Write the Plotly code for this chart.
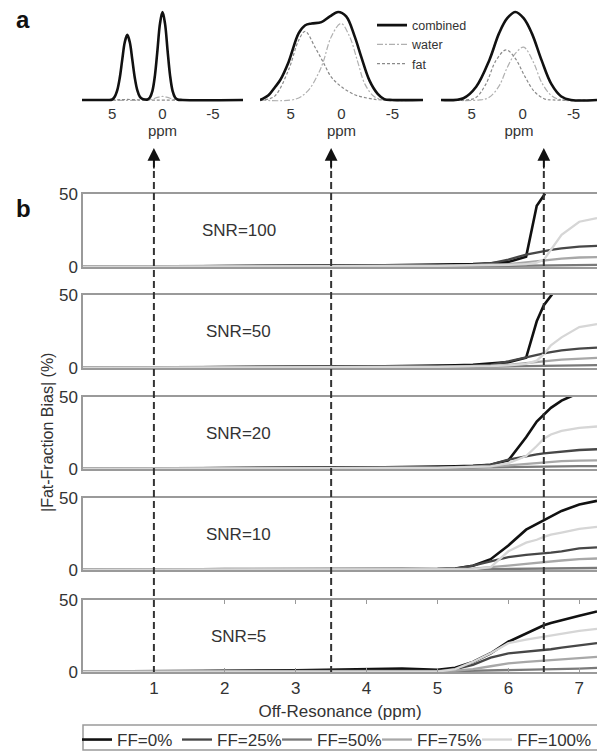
import plotly.graph_objects as go

W, H = 597, 751
FONT = "Liberation Sans, Arial, sans-serif"
TXT = "#333333"


def py(pix):
    """Pixel row (from top) -> paper y."""
    return 1 - pix / H


def px(pix):
    """Pixel column -> paper x."""
    return pix / W


# ---------------- panel a: spectra (ppm, normalised signal) ----------------
A1_COMB_PPM = [8, 5.5, 5, 4.75, 4.5, 4.25, 4, 3.75, 3.5, 3.25, 3, 2.75, 2.5, 2.25, 2, 1.75,
               1.5, 1.25, 1, 0.75, 0.5, 0.25, 0, -0.25, -0.5, -0.75, -1, -1.25, -1.5, -2, -8]
A1_COMB = [0, 0, 0.005, 0.037, 0.109, 0.25, 0.458, 0.656, 0.74, 0.656, 0.458, 0.25, 0.109, 0.037,
           0.012, 0.005, 0.006, 0.029, 0.104, 0.28, 0.568, 0.868, 1.0, 0.868, 0.568, 0.28, 0.104,
           0.029, 0.006, 0, 0]
A1_WATER_PPM = [8, 1.5, 1.0, 0.5, 0, -0.5, -1.0, -1.5, -8]
A1_WATER = [0, 0, 0.01, 0.03, 0.04, 0.03, 0.01, 0, 0]
A1_FAT_PPM = [8, 5, 4, 3.5, 3, 2, -8]
A1_FAT = [0, 0, 0.004, 0.006, 0.004, 0, 0]

A2_COMB_PPM = [8, 7.8, 7.2, 6.5, 6.0, 5.2, 4.2, 3.56, 2.94, 1.97, 1.14, 0.33, -0.46, -1.3,
               -1.94, -2.75, -3.55, -4.2, -5, -8]
A2_COMB = [0, 0.01, 0.05, 0.15, 0.23, 0.43, 0.76, 0.85, 0.87, 0.885, 0.95, 1.0, 0.95, 0.72,
           0.49, 0.22, 0.07, 0.01, 0, 0]
A2_FAT_PPM = [8, 7.2, 6.5, 5.2, 4.2, 3.56, 2.6, 1.8, 1.0, 0, -1.3, -2.6, -3.9, -8]
A2_FAT = [0, 0.01, 0.05, 0.34, 0.68, 0.78, 0.6, 0.43, 0.26, 0.15, 0.06, 0.02, 0, 0]
A2_WATER_PPM = [8, 4.5, 3.25, 2.27, 1.8, 1.0, 0.05, -0.8, -1.6, -2.3, -3.2, -4.2, -8]
A2_WATER = [0, 0.01, 0.11, 0.3, 0.43, 0.72, 0.87, 0.72, 0.43, 0.18, 0.04, 0, 0]

A3_COMB_PPM = [8, 5.8, 4.55, 3.27, 2.3, 1.5, 0.7, -0.1, -0.9, -1.87, -2.83, -3.8, -4.75, -7.3]
A3_COMB = [0, 0.02, 0.15, 0.45, 0.76, 0.93, 1.0, 0.93, 0.76, 0.45, 0.18, 0.04, 0, 0]
A3_FAT_PPM = [8, 5.5, 4.55, 3.6, 2.6, 1.6, 0.7, -0.26, -1.2, -2.2, -3, -7.3]
A3_FAT = [0, 0, 0.03, 0.18, 0.45, 0.57, 0.47, 0.26, 0.09, 0.01, 0, 0]
A3_WATER_PPM = [8, 4.2, 3.27, 2.3, 1.5, 0.7, -0.1, -1.06, -1.87, -2.83, -3.8, -7.3]
A3_WATER = [0, 0, 0.03, 0.16, 0.37, 0.53, 0.6, 0.43, 0.2, 0.05, 0, 0]

A_TICKS = [5, 0, -5]
A_TICK_TEXT = ["5", "0", "-5"]

# ---------------- panel b: fat-fraction bias vs off-resonance ----------------
OFF_RES = [0, 1, 2, 3, 4, 4.5, 5, 5.25, 5.5, 5.75, 6.0, 6.25, 6.4, 6.5, 6.6, 6.75, 7.0, 7.25]
FF_NAMES = ["FF=0%", "FF=25%", "FF=50%", "FF=75%", "FF=100%"]
SNR_LABELS = ["SNR=100", "SNR=50", "SNR=20", "SNR=10", "SNR=5"]

BIAS_SNR100 = [
    [0.3, 0.3, 0.5, 0.8, 1.0, 1.2, 1.5, 1.8, 2.0, 2.5, 3.5, 7, 42, 49, 58, 70, 80, 85],
    [0.2, 0.2, 0.8, 1.0, 0.8, 0.8, 1.0, 1.2, 1.5, 2.5, 5, 8.5, 10, 11, 11.8, 12.8, 14, 14.5],
    [0, 0, 0.3, 0.3, 0.3, 0.4, 0.5, 0.5, 0.5, 0.6, 0.8, 1.0, 1.1, 1.2, 1.3, 1.4, 1.5, 1.5],
    [0.2, 0.2, 0.5, 0.6, 0.6, 0.7, 0.8, 1.0, 1.2, 1.5, 2.0, 3.2, 4.0, 4.6, 5.0, 5.8, 6.5, 6.8],
    [0.2, 0.2, 0.4, 0.5, 0.6, 0.7, 0.8, 0.9, 1.0, 1.2, 1.5, 2.0, 3.0, 5.0, 12, 22, 31, 33.5],
]
BIAS_SNR50 = [
    [0.3, 0.3, 0.5, 0.8, 1.0, 1.2, 1.5, 1.8, 2.2, 3.0, 4.0, 7.0, 32, 43, 50, 62, 75, 80],
    [0.2, 0.2, 0.8, 1.0, 0.8, 0.8, 1.0, 1.3, 1.6, 2.2, 4.5, 7.5, 9.0, 10, 10.8, 12, 13.3, 14],
    [0, 0, 0.3, 0.3, 0.3, 0.4, 0.5, 0.6, 0.7, 0.8, 1.0, 1.2, 1.3, 1.4, 1.5, 1.6, 1.8, 2.0],
    [0.2, 0.2, 0.5, 0.6, 0.6, 0.7, 0.8, 1.0, 1.2, 1.6, 2.2, 3.2, 4.0, 4.6, 5.0, 5.8, 6.6, 7.0],
    [0.2, 0.2, 0.4, 0.5, 0.6, 0.7, 0.8, 0.9, 1.0, 1.3, 1.8, 2.8, 5.0, 9.5, 15.5, 21, 28, 30],
]
BIAS_SNR20 = [
    [0.3, 0.3, 0.6, 0.8, 1.0, 1.2, 1.5, 1.8, 2.2, 3.0, 6.0, 22, 33, 38, 42.5, 47.5, 53, 56],
    [0.2, 0.2, 0.8, 1.0, 0.8, 0.9, 1.2, 1.5, 2.0, 3.0, 6.5, 9.0, 10.2, 10.9, 11.4, 12.2, 13.2, 13.7],
    [0, 0, 0.3, 0.3, 0.4, 0.5, 0.6, 0.7, 0.8, 1.0, 1.2, 1.4, 1.5, 1.6, 1.7, 1.8, 2.0, 2.0],
    [0.2, 0.2, 0.5, 0.6, 0.6, 0.7, 0.8, 1.0, 1.3, 1.8, 2.5, 3.5, 4.2, 4.6, 5.0, 5.4, 5.8, 6.0],
    [0.2, 0.2, 0.4, 0.5, 0.6, 0.7, 0.8, 1.0, 1.2, 1.8, 4.0, 9.0, 16, 21, 24, 26.5, 28.5, 29.5],
]
BIAS_SNR10 = [
    [0.3, 0.3, 0.6, 0.8, 0.8, 0.8, 0.6, 1.0, 3.0, 7.5, 17, 28, 32, 34.5, 37.5, 41, 45.5, 48],
    [0.2, 0.2, 0.8, 1.0, 0.8, 0.9, 0.8, 1.0, 3.0, 6.0, 9.0, 10.5, 11, 11.5, 12, 13, 15, 15.7],
    [0, 0, 0.3, 0.3, 0.3, 0.3, 0.3, 0.4, 0.5, 0.6, 0.8, 0.9, 1.0, 1.0, 1.1, 1.2, 1.3, 1.4],
    [0.2, 0.2, 0.5, 0.6, 0.6, 0.6, 0.6, 0.7, 1.0, 1.8, 3.0, 4.2, 5.0, 5.5, 6.0, 6.6, 7.5, 8.0],
    [0.2, 0.2, 0.4, 0.5, 0.5, 0.5, 0.4, 0.4, 0.5, 2.0, 13, 19, 21, 23, 24.5, 26, 28.5, 30],
]
BIAS_SNR5 = [
    [0.3, 0.3, 0.8, 1.2, 2.0, 2.4, 1.6, 3.0, 7.0, 13, 21, 27, 30.5, 32.5, 34, 36, 39, 42],
    [0.2, 0.2, 0.8, 1.0, 1.0, 1.0, 0.8, 2.0, 5.0, 10, 13, 14, 14.8, 15.3, 15.8, 17, 18.5, 20],
    [0, 0, 0.3, 0.3, 0.4, 0.5, 0.5, 0.6, 0.8, 1.0, 1.2, 1.4, 1.5, 1.6, 1.8, 2.0, 2.4, 2.8],
    [0.2, 0.2, 0.5, 0.6, 0.6, 0.6, 0.6, 1.0, 2.0, 4.0, 6.0, 7.0, 7.6, 8.0, 8.4, 9.0, 10, 10.5],
    [0.2, 0.2, 0.4, 0.5, 0.5, 0.5, 0.3, 2.0, 7.0, 13, 20, 22.5, 23.8, 24.5, 25.2, 26.5, 28.5, 30],
]
BIAS_PANELS = [BIAS_SNR100, BIAS_SNR50, BIAS_SNR20, BIAS_SNR10, BIAS_SNR5]
B_TICKS = [1, 2, 3, 4, 5, 6, 7]
ARROW_POS = [1, 3.5, 6.5]

FF_COLORS = ["#111111", "#474747", "#7a7a7a", "#a8a8a8", "#d6d6d6"]
FF_WIDTHS = [2.6, 2.3, 2.3, 2.3, 2.3]

fig = go.Figure()

# ---- panel a ----
spectra = [
    (A1_COMB_PPM, A1_COMB, A1_WATER_PPM, A1_WATER, A1_FAT_PPM, A1_FAT),
    (A2_COMB_PPM, A2_COMB, A2_WATER_PPM, A2_WATER, A2_FAT_PPM, A2_FAT),
    (A3_COMB_PPM, A3_COMB, A3_WATER_PPM, A3_WATER, A3_FAT_PPM, A3_FAT),
]
for i, (cx, cy, wx, wy, fx, fy) in enumerate(spectra):
    ax = "x" if i == 0 else f"x{i + 1}"
    ay = "y" if i == 0 else f"y{i + 1}"
    first = i == 0
    fig.add_trace(go.Scatter(x=wx, y=wy, mode="lines", name="water", xaxis=ax, yaxis=ay,
                             line=dict(color="#b0b0b0", width=1.2, dash="6px,2px,2px,2px", shape="spline"),
                             legend="legend2", showlegend=first, legendrank=2))
    fig.add_trace(go.Scatter(x=fx, y=fy, mode="lines", name="fat", xaxis=ax, yaxis=ay,
                             line=dict(color="#8a8a8a", width=1.2, dash="3px,2px", shape="spline"),
                             legend="legend2", showlegend=first, legendrank=3))
    fig.add_trace(go.Scatter(x=cx, y=cy, mode="lines", name="combined", xaxis=ax, yaxis=ay,
                             line=dict(color="#111111", width=2.6, shape="spline"),
                             legend="legend2", showlegend=first, legendrank=1))

# ---- panel b ----
for p, panel in enumerate(BIAS_PANELS):
    n = p + 4
    for k, vals in enumerate(panel):
        fig.add_trace(go.Scatter(x=OFF_RES, y=vals, mode="lines", name=FF_NAMES[k],
                                 xaxis=f"x{n}", yaxis=f"y{n}",
                                 line=dict(color=FF_COLORS[k], width=FF_WIDTHS[k]),
                                 legend="legend", showlegend=(p == 0), legendrank=k + 1))

# empty trailing legend slot: widens the legend's clip box so the last label is not trimmed
fig.add_trace(go.Scatter(x=[None], y=[None], mode="lines", name=" ", xaxis="x4", yaxis="y4",
                         line=dict(color="rgba(0,0,0,0)", width=0), hoverinfo="skip",
                         legend="legend", showlegend=True, legendrank=6))

layout = dict(
    width=W, height=H, margin=dict(l=0, r=0, t=0, b=0, autoexpand=False),
    paper_bgcolor="white", plot_bgcolor="white",
    font=dict(family=FONT, color=TXT, size=17),
    legend=dict(orientation="h", x=px(77), xanchor="left", y=py(722), yanchor="top",
                font=dict(size=17, color=TXT), bgcolor="rgba(0,0,0,0)", borderwidth=0,
                entrywidth=55, entrywidthmode="pixels", itemwidth=30, traceorder="normal"),
    legend2=dict(orientation="v", x=px(372), xanchor="left", y=py(10.5), yanchor="top",
                 font=dict(size=12.5, color=TXT), bgcolor="rgba(0,0,0,0)", borderwidth=0,
                 itemwidth=30, tracegroupgap=0),
)

# panel a axes
a_dom_x = [(px(82), px(243)), (px(260), px(423)), (px(441), 1.0)]
a_rng_x = [[8, -8], [8, -8], [8, -7.3]]
for i in range(3):
    sx = "" if i == 0 else str(i + 1)
    layout[f"xaxis{sx}"] = dict(domain=list(a_dom_x[i]), range=a_rng_x[i], anchor=f"y{sx}",
                                showgrid=False, zeroline=False, showline=False, ticks="",
                                tickvals=A_TICKS, ticktext=A_TICK_TEXT,
                                tickfont=dict(size=15, color=TXT),
                                title=dict(text="ppm", font=dict(size=15, color=TXT), standoff=2))
    layout[f"yaxis{sx}"] = dict(domain=[py(102.6), py(9.4)], range=[-0.03, 1.03],
                                anchor=f"x{sx}", visible=False)

# panel b axes
b_rows = [(194, 267), (295, 368), (397, 469), (498, 570), (600, 672)]
for p, (top, bot) in enumerate(b_rows):
    n = p + 4
    last = p == len(b_rows) - 1
    layout[f"xaxis{n}"] = dict(domain=[px(83), 1.0], range=[0, 7.25], anchor=f"y{n}",
                               showgrid=False, zeroline=False, showline=True,
                               linecolor="#9a9a9a", linewidth=1.5,
                               mirror="ticks" if last else True,
                               ticks="inside" if last else "", ticklen=4, tickcolor="#9a9a9a",
                               tickvals=B_TICKS, showticklabels=last,
                               tickfont=dict(size=17, color=TXT))
    if last:
        layout[f"xaxis{n}"]["title"] = dict(text="Off-Resonance (ppm)",
                                            font=dict(size=17, color=TXT), standoff=8)
    layout[f"yaxis{n}"] = dict(domain=[py(bot), py(top)], range=[0, 50], anchor=f"x{n}",
                               showgrid=False, zeroline=False, showline=True,
                               linecolor="#9a9a9a", linewidth=1.5, ticks="",
                               tickvals=[0, 50], tickfont=dict(size=17, color=TXT))

annotations = [
    dict(text="<b>a</b>", x=px(14), y=py(20), xref="paper", yref="paper", xanchor="left",
         yanchor="middle", showarrow=False, font=dict(size=24, color="#111")),
    dict(text="<b>b</b>", x=px(14), y=py(209), xref="paper", yref="paper", xanchor="left",
         yanchor="middle", showarrow=False, font=dict(size=24, color="#111")),
    dict(text="|Fat-Fraction Bias| (%)", x=px(47), y=py(433), xref="paper", yref="paper",
         textangle=-90, showarrow=False, xanchor="center", yanchor="middle",
         font=dict(size=16, color=TXT)),
]
for p, lab in enumerate(SNR_LABELS):
    n = p + 4
    annotations.append(dict(text=lab, x=2.2, y=25, xref=f"x{n}", yref=f"y{n}",
                            showarrow=False, font=dict(size=17, color=TXT)))
for xa in ARROW_POS:
    annotations.append(dict(text="", x=xa, y=py(148), xref="x4", yref="paper",
                            showarrow=True, ax=0, ay=22, arrowhead=2, arrowsize=1.6,
                            arrowwidth=1.6, arrowcolor="#111"))
layout["annotations"] = annotations

shapes = []
for xa in ARROW_POS:
    shapes.append(dict(type="line", xref="x4", yref="paper", x0=xa, x1=xa,
                       y0=py(160), y1=py(672), layer="above",
                       line=dict(color="#333", width=2, dash="7px,4px")))
# frame around the FF legend
shapes.append(dict(type="rect", xref="paper", yref="paper", x0=px(83), x1=1.1,
                   y0=py(750), y1=py(725), line=dict(color="#9a9a9a", width=1.5),
                   fillcolor="rgba(0,0,0,0)"))
layout["shapes"] = shapes

fig.update_layout(**layout)
fig.write_html("out.html")
